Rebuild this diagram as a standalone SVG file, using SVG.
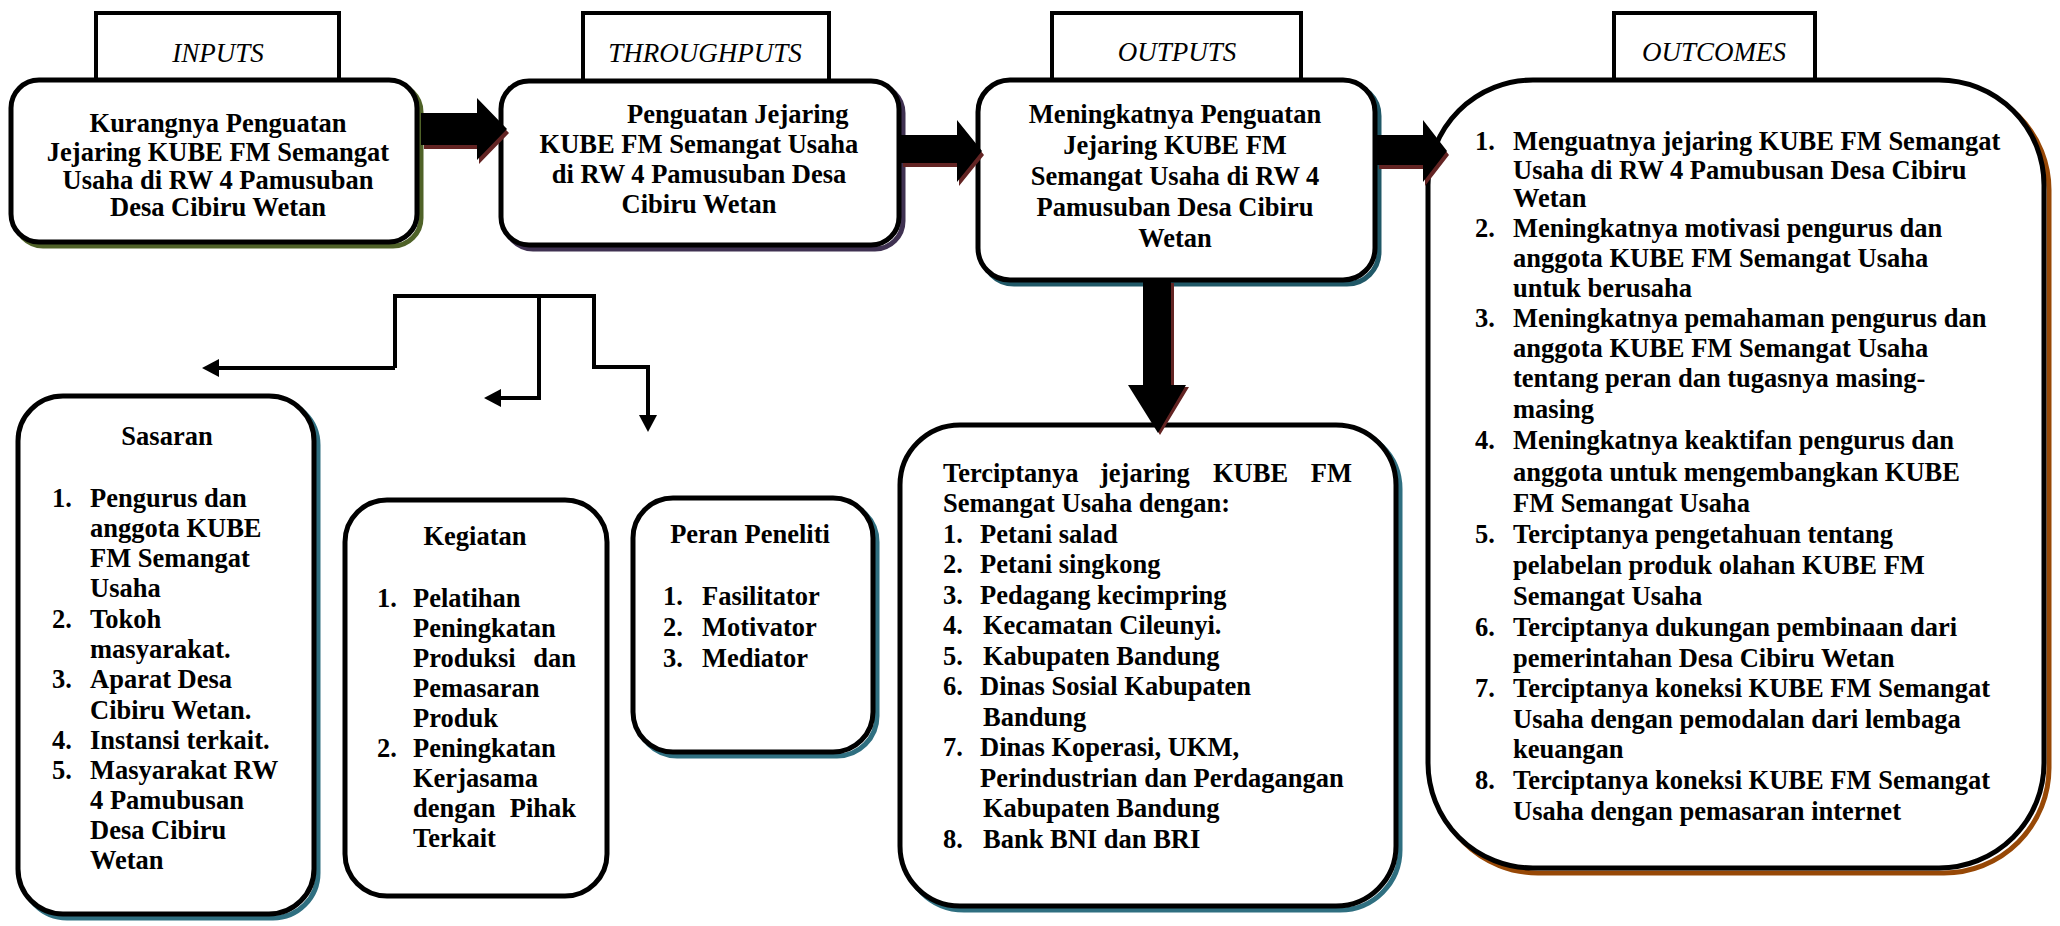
<svg xmlns="http://www.w3.org/2000/svg" width="2060" height="926" viewBox="0 0 2060 926">
<style>
.bg{fill:#ffffff}
.lbl{fill:#ffffff;stroke:#000;stroke-width:4}
.box{fill:#ffffff;stroke:#000;stroke-width:5}
.sh{fill:none;stroke-width:5}
.t{font-family:"Liberation Serif","Times New Roman",serif;font-weight:bold;font-size:26.5px;fill:#000}
.c{text-anchor:middle}
.e{text-anchor:end}
.it{font-family:"Liberation Serif","Times New Roman",serif;font-style:italic;font-size:27px;fill:#000;text-anchor:middle}
.ln{fill:none;stroke:#000;stroke-width:4}
.big{fill:#000}
.bigsh{fill:#632423}
</style>
<defs>
<marker id="ah" markerUnits="userSpaceOnUse" markerWidth="18" markerHeight="18" refX="1" refY="9" orient="auto">
<path d="M0,0 L17,9 L0,18 z" fill="#000"/>
</marker>
</defs>
<rect class="bg" x="0" y="0" width="2060" height="926"/>

<g id="inputs">
<rect class="lbl" x="96" y="13" width="243" height="70"/>
<text class="it" x="218" y="62">INPUTS</text>
<rect class="sh" x="15" y="84" width="406" height="162" rx="28" stroke="#4f6228"/>
<rect class="box" x="11" y="80" width="406" height="162" rx="28"/>
<text class="t c" x="218" y="132">Kurangnya Penguatan</text>
<text class="t c" x="218" y="161">Jejaring KUBE FM Semangat</text>
<text class="t c" x="218" y="189">Usaha di RW 4 Pamusuban</text>
<text class="t c" x="218" y="216">Desa Cibiru Wetan</text>
</g>

<g id="throughputs">
<rect class="lbl" x="583" y="13" width="246" height="70"/>
<text class="it" x="705" y="62">THROUGHPUTS</text>
<rect class="sh" x="505" y="85" width="398" height="164" rx="28" stroke="#3f3151"/>
<rect class="box" x="501" y="81" width="398" height="164" rx="28"/>
<text class="t" x="627" y="123">Penguatan Jejaring</text>
<text class="t c" x="699" y="153">KUBE FM Semangat Usaha</text>
<text class="t c" x="699" y="183">di RW 4 Pamusuban Desa</text>
<text class="t c" x="699" y="213">Cibiru Wetan</text>
</g>

<g id="outputs">
<rect class="lbl" x="1052" y="13" width="249" height="70"/>
<text class="it" x="1177" y="61">OUTPUTS</text>
<rect class="sh" x="982" y="84" width="397" height="200" rx="32" stroke="#205867"/>
<rect class="box" x="978" y="80" width="397" height="200" rx="32"/>
<text class="t c" x="1175" y="123">Meningkatnya Penguatan</text>
<text class="t c" x="1175" y="154">Jejaring KUBE FM</text>
<text class="t c" x="1175" y="185">Semangat Usaha di RW 4</text>
<text class="t c" x="1175" y="216">Pamusuban Desa Cibiru</text>
<text class="t c" x="1175" y="247">Wetan</text>
</g>

<g id="outcomes">
<rect class="lbl" x="1614" y="13" width="201" height="70"/>
<text class="it" x="1714" y="61">OUTCOMES</text>
<rect class="sh" x="1433" y="85" width="616" height="788" rx="105" stroke="#974806"/>
<rect class="box" x="1428" y="80" width="616" height="788" rx="105"/>
<text class="t" x="1475" y="150">1.</text><text class="t" x="1513" y="150">Menguatnya jejaring KUBE FM Semangat</text>
<text class="t" x="1513" y="179">Usaha di RW 4 Pamubusan Desa Cibiru</text>
<text class="t" x="1513" y="207">Wetan</text>
<text class="t" x="1475" y="237">2.</text><text class="t" x="1513" y="237">Meningkatnya motivasi pengurus dan</text>
<text class="t" x="1513" y="267">anggota KUBE FM Semangat Usaha</text>
<text class="t" x="1513" y="297">untuk berusaha</text>
<text class="t" x="1475" y="327">3.</text><text class="t" x="1513" y="327">Meningkatnya pemahaman pengurus dan</text>
<text class="t" x="1513" y="357">anggota KUBE FM Semangat Usaha</text>
<text class="t" x="1513" y="387">tentang peran dan tugasnya masing-</text>
<text class="t" x="1513" y="418">masing</text>
<text class="t" x="1475" y="449">4.</text><text class="t" x="1513" y="449">Meningkatnya keaktifan pengurus dan</text>
<text class="t" x="1513" y="481">anggota untuk mengembangkan KUBE</text>
<text class="t" x="1513" y="512">FM Semangat Usaha</text>
<text class="t" x="1475" y="543">5.</text><text class="t" x="1513" y="543">Terciptanya pengetahuan tentang</text>
<text class="t" x="1513" y="574">pelabelan produk olahan KUBE FM</text>
<text class="t" x="1513" y="605">Semangat Usaha</text>
<text class="t" x="1475" y="636">6.</text><text class="t" x="1513" y="636">Terciptanya dukungan pembinaan dari</text>
<text class="t" x="1513" y="667">pemerintahan Desa Cibiru Wetan</text>
<text class="t" x="1475" y="697">7.</text><text class="t" x="1513" y="697">Terciptanya koneksi KUBE FM Semangat</text>
<text class="t" x="1513" y="728">Usaha dengan pemodalan dari lembaga</text>
<text class="t" x="1513" y="758">keuangan</text>
<text class="t" x="1475" y="789">8.</text><text class="t" x="1513" y="789">Terciptanya koneksi KUBE FM Semangat</text>
<text class="t" x="1513" y="820">Usaha dengan pemasaran internet</text>
</g>

<g id="terciptanya">
<rect class="sh" x="904" y="429" width="496" height="481" rx="60" stroke="#2f6f80"/>
<rect class="box" x="900" y="425" width="496" height="481" rx="60"/>
<text class="t" x="943" y="482">Terciptanya</text>
<text class="t" x="1100" y="482">jejaring</text>
<text class="t" x="1213" y="482">KUBE</text>
<text class="t e" x="1352" y="482">FM</text>
<text class="t" x="943" y="512">Semangat Usaha dengan:</text>
<text class="t" x="943" y="543">1.</text><text class="t" x="980" y="543">Petani salad</text>
<text class="t" x="943" y="573">2.</text><text class="t" x="980" y="573">Petani singkong</text>
<text class="t" x="943" y="604">3.</text><text class="t" x="980" y="604">Pedagang kecimpring</text>
<text class="t" x="943" y="634">4.</text><text class="t" x="983" y="634">Kecamatan Cileunyi.</text>
<text class="t" x="943" y="665">5.</text><text class="t" x="983" y="665">Kabupaten Bandung</text>
<text class="t" x="943" y="695">6.</text><text class="t" x="980" y="695">Dinas Sosial Kabupaten</text>
<text class="t" x="983" y="726">Bandung</text>
<text class="t" x="943" y="756">7.</text><text class="t" x="980" y="756">Dinas Koperasi, UKM,</text>
<text class="t" x="980" y="787">Perindustrian dan Perdagangan</text>
<text class="t" x="983" y="817">Kabupaten Bandung</text>
<text class="t" x="943" y="848">8.</text><text class="t" x="983" y="848">Bank BNI dan BRI</text>
</g>

<g id="sasaran">
<rect class="sh" x="22" y="400" width="296" height="518" rx="45" stroke="#2f6f80"/>
<rect class="box" x="18" y="396" width="296" height="518" rx="45"/>
<text class="t c" x="167" y="445">Sasaran</text>
<text class="t" x="52" y="507">1.</text><text class="t" x="90" y="507">Pengurus dan</text>
<text class="t" x="90" y="537">anggota KUBE</text>
<text class="t" x="90" y="567">FM Semangat</text>
<text class="t" x="90" y="597">Usaha</text>
<text class="t" x="52" y="628">2.</text><text class="t" x="90" y="628">Tokoh</text>
<text class="t" x="90" y="658">masyarakat.</text>
<text class="t" x="52" y="688">3.</text><text class="t" x="90" y="688">Aparat Desa</text>
<text class="t" x="90" y="719">Cibiru Wetan.</text>
<text class="t" x="52" y="749">4.</text><text class="t" x="90" y="749">Instansi terkait.</text>
<text class="t" x="52" y="779">5.</text><text class="t" x="90" y="779">Masyarakat RW</text>
<text class="t" x="90" y="809">4 Pamubusan</text>
<text class="t" x="90" y="839">Desa Cibiru</text>
<text class="t" x="90" y="869">Wetan</text>
</g>

<g id="kegiatan">
<rect class="box" x="345" y="500" width="262" height="396" rx="42"/>
<text class="t c" x="475" y="545">Kegiatan</text>
<text class="t" x="377" y="607">1.</text><text class="t" x="413" y="607">Pelatihan</text>
<text class="t" x="413" y="637">Peningkatan</text>
<text class="t" x="413" y="667">Produksi</text><text class="t e" x="576" y="667">dan</text>
<text class="t" x="413" y="697">Pemasaran</text>
<text class="t" x="413" y="727">Produk</text>
<text class="t" x="377" y="757">2.</text><text class="t" x="413" y="757">Peningkatan</text>
<text class="t" x="413" y="787">Kerjasama</text>
<text class="t" x="413" y="817">dengan</text><text class="t e" x="576" y="817">Pihak</text>
<text class="t" x="413" y="847">Terkait</text>
</g>

<g id="peran">
<rect class="sh" x="637" y="502" width="240" height="254" rx="40" stroke="#2f6f80"/>
<rect class="box" x="633" y="498" width="240" height="254" rx="40"/>
<text class="t c" x="750" y="543">Peran Peneliti</text>
<text class="t" x="663" y="605">1.</text><text class="t" x="702" y="605">Fasilitator</text>
<text class="t" x="663" y="636">2.</text><text class="t" x="702" y="636">Motivator</text>
<text class="t" x="663" y="667">3.</text><text class="t" x="702" y="667">Mediator</text>
</g>

<g id="connectors">
<polygon class="bigsh" points="424,117 479,117 479,102 509,133 479,164 479,149 424,149"/>
<polygon class="big" points="421,113 477,113 477,98 507,129 477,160 477,145 421,145"/>
<polygon class="bigsh" points="903,139 959,139 959,124 984,155 959,186 959,167 903,167"/>
<polygon class="big" points="900,135 957,135 957,120 982,151 957,182 957,163 900,163"/>
<polygon class="bigsh" points="1379,139 1425,139 1425,124 1449,155 1425,186 1425,169 1379,169"/>
<polygon class="big" points="1376,135 1423,135 1423,120 1447,151 1423,182 1423,165 1376,165"/>
<polygon class="bigsh" points="1146,283 1174,283 1174,387 1189,387 1160,435 1131,387 1146,387"/>
<polygon class="big" points="1143,281 1171,281 1171,385 1186,385 1158,433 1128,385 1143,385"/>
<path class="ln" d="M395,368 V296 H594 V367 H648 V416" marker-end="url(#ah)"/>
<path class="ln" d="M395,368 H218" marker-end="url(#ah)"/>
<path class="ln" d="M539,296 V398 H500" marker-end="url(#ah)"/>
</g>
</svg>
